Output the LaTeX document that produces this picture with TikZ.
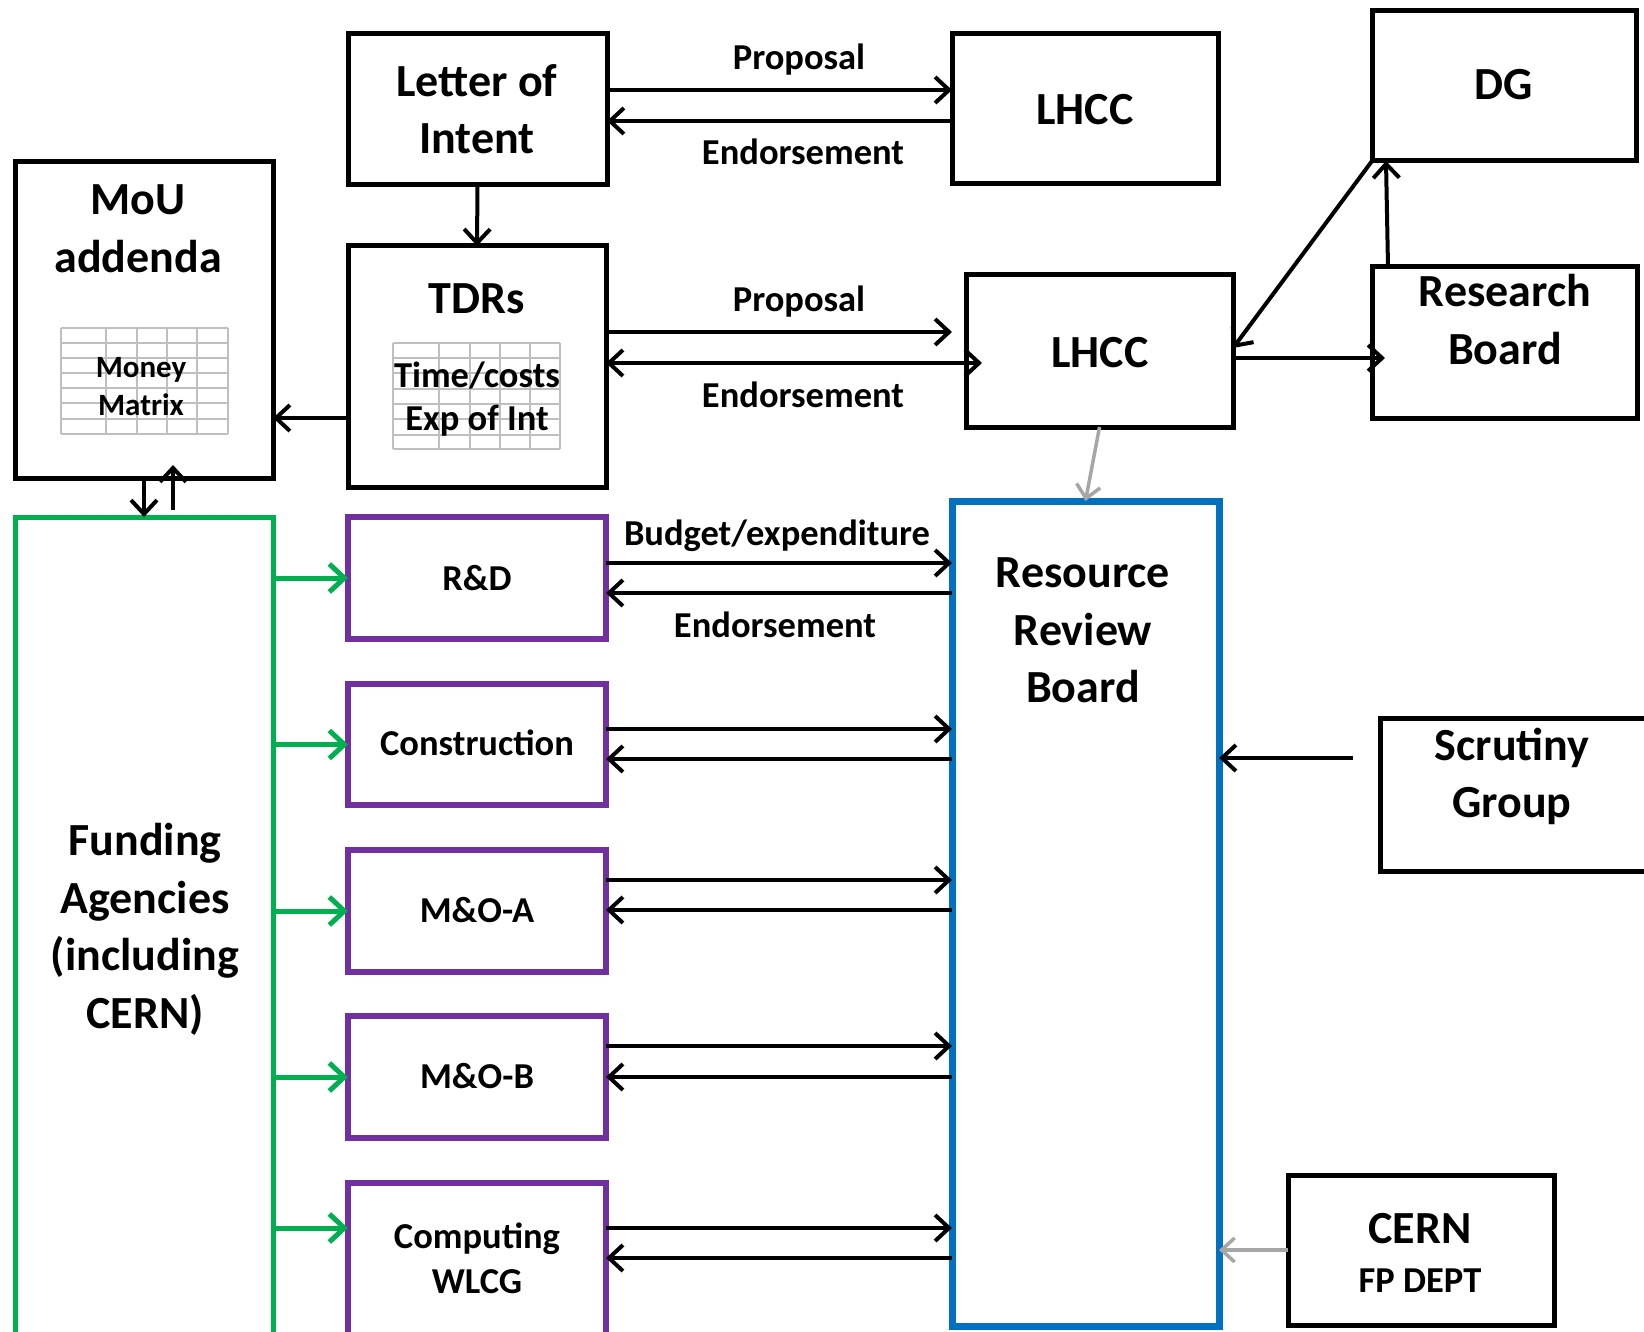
\documentclass[tikz,border=0pt]{standalone}
\usepackage{fontspec}
\setmainfont{Carlito}
\usetikzlibrary{arrows.meta}
\newcommand\fbig{\fontsize{46}{56}\selectfont\bfseries}
\newcommand\fmid{\fontsize{36.5}{44}\selectfont\bfseries}
\newcommand\fsml{\fontsize{31}{38}\selectfont\bfseries}
\definecolor{fgreen}{HTML}{00B050}
\definecolor{fpurple}{HTML}{7030A0}
\definecolor{fblue}{HTML}{0070C0}
\definecolor{fgray}{HTML}{A6A6A6}
\definecolor{tgray}{HTML}{BFBFBF}
\begin{document}
\begin{tikzpicture}[x=1pt,y=-1pt,
  box/.style={draw=black,line width=5pt,inner sep=0pt,outer sep=0pt,rectangle},
  pbox/.style={draw=fpurple,line width=5.5pt,inner sep=0pt,outer sep=0pt,rectangle},
  gbox/.style={draw=fgreen,line width=5pt,inner sep=0pt,outer sep=0pt,rectangle},
  bbox/.style={draw=fblue,line width=7pt,inner sep=0pt,outer sep=0pt,rectangle},
  arr/.style={draw=black,line width=4pt,-{Straight Barb[length=14pt,width=26pt]}},
  garr/.style={draw=fgreen,line width=5pt,-{Straight Barb[length=15pt,width=28pt]}},
  grarr/.style={draw=fgray,line width=3.5pt,-{Straight Barb[length=13pt,width=24pt]}},
  big/.style={anchor=base,inner sep=0pt,font=\fbig},
  mid/.style={anchor=base,inner sep=0pt,font=\fmid},
  sml/.style={anchor=base,inner sep=0pt,font=\fsml},
  grid/.style={draw=tgray,line width=1.8pt}
]
\useasboundingbox (0,0) rectangle (1644,1332);

% boxes
\node[box,minimum width=259pt,minimum height=151pt] (loi) at (477.5,109.5) {};
\node[box,minimum width=266pt,minimum height=150pt] (lhcca) at (1085,109) {};
\node[box,minimum width=264pt,minimum height=150pt] (dg) at (1504,86) {};
\node[box,minimum width=258pt,minimum height=316pt] (mou) at (144,320) {};
\node[box,minimum width=258pt,minimum height=241pt] (tdrs) at (477,366.5) {};
\node[box,minimum width=267pt,minimum height=152pt] (lhccb) at (1099.5,351) {};
\node[box,minimum width=265pt,minimum height=151pt] (rb) at (1504.5,342.5) {};
\node[gbox,minimum width=258pt,minimum height=828pt] (fund) at (144,931) {};
\node[pbox,minimum width=258pt,minimum height=122pt] (rd) at (477,578) {};
\node[pbox,minimum width=258pt,minimum height=121pt] (con) at (477,744.5) {};
\node[pbox,minimum width=258pt,minimum height=122pt] (moa) at (477,911) {};
\node[pbox,minimum width=258pt,minimum height=122pt] (mob) at (477,1077) {};
\node[pbox,minimum width=258pt,minimum height=162pt] (comp) at (477,1264) {};
\node[bbox,minimum width=267pt,minimum height=825pt] (rrb) at (1085.5,913.5) {};
\node[box,minimum width=270pt,minimum height=153pt] (scr) at (1515,794.5) {};
\node[box,minimum width=266pt,minimum height=150pt] (cern) at (1421,1250) {};

% tables
\foreach \x in {61,106,137,167,197,228} \draw[grid] (\x,328) -- (\x,434);
\foreach \y in {328,343,358,373,388,403,419,434} \draw[grid] (61,\y) -- (228,\y);
\foreach \x in {393,439,470,500,530,560} \draw[grid] (\x,343) -- (\x,449);
\foreach \y in {343,358,373,389,404,419,435,449} \draw[grid] (393,\y) -- (560,\y);

% texts
\node[big] (t-loi1) at (477,97) {Letter of};
\node[big] (t-loi2) at (477,154) {Intent};
\node[big] (t-lhcca) at (1085,125) {LHCC};
\node[big] (t-dg) at (1504,100) {DG};
\node[big] (t-lhccb) at (1100,367) {LHCC};
\node[big] (t-mou1) at (138,215) {MoU};
\node[big] (t-mou2) at (138,273) {addenda};
\node[sml] (t-mm1) at (141,377) {Money};
\node[sml] (t-mm2) at (141,415) {Matrix};
\node[big] (t-tdrs) at (477,314) {TDRs};
\node[mid] (t-tc1) at (477,387) {Time/costs};
\node[mid] (t-tc2) at (477,430) {Exp of Int};
\node[mid] (t-p1) at (799,70) {Proposal};
\node[mid] (t-e1) at (803,165) {Endorsement};
\node[mid] (t-p2) at (799,312) {Proposal};
\node[mid] (t-e2) at (803,407) {Endorsement};
\node[big] (t-rb1) at (1505,307) {Research};
\node[big] (t-rb2) at (1505,364) {Board};
\node[big] (t-rrb1) at (1083,587) {Resource};
\node[big] (t-rrb2) at (1083,645) {Review};
\node[big] (t-rrb3) at (1083,702) {Board};
\node[mid] (t-be) at (777,545) {Budget/expenditure};
\node[mid] (t-e3) at (775,637) {Endorsement};
\node[mid] (t-rd) at (477,590) {R\&D};
\node[mid] (t-con) at (477,755) {Construction};
\node[mid] (t-moa) at (477,922) {M\&O-A};
\node[mid] (t-mob) at (477,1088) {M\&O-B};
\node[mid] (t-comp1) at (477,1248) {Computing};
\node[mid] (t-comp2) at (477,1293) {WLCG};
\node[big] (t-f1) at (145,855) {Funding};
\node[big] (t-f2) at (145,913) {Agencies};
\node[big] (t-f3) at (145,970) {(including};
\node[big] (t-f4) at (145,1028) {CERN)};
\node[big] (t-scr1) at (1512,760) {Scrutiny};
\node[big] (t-scr2) at (1512,817) {Group};
\node[big] (t-cern1) at (1420,1243) {CERN};
\node[mid] (t-cern2) at (1420,1292) {FP DEPT};

% free-end coordinates
\coordinate (upA) at (173,510);
\coordinate (upB) at (173,465);

% connectors top
\draw[arr] (loi.east |- 0,90) -- (lhcca.west |- 0,90);
\draw[arr] (lhcca.west |- 0,121) -- (loi.east |- 0,121);
\draw[arr] (loi.south) -- (tdrs.north);
\draw[arr,shorten >=14pt] (tdrs.east |- 0,332) -- (lhccb.west |- 0,332);
\draw[arr] (lhccb.west |- 0,363) -- (tdrs.east |- 0,363);
\draw[arr,shorten <=28pt,shorten >=-16pt] (tdrs.east |- 0,363) -- (lhccb.west |- 0,363);
\draw[arr] (tdrs.west |- 0,418) -- (mou.east |- 0,418);
\draw[arr] (mou.south) -- (fund.north);
\draw[arr] (upA) -- (upB);
\draw[arr] (dg.south west) -- (lhccb.east |- 0,348);
\draw[arr] (1388,0 |- rb.north) -- (1386,0 |- dg.south);
\draw[arr,shorten >=-13pt] (lhccb.east |- 0,358) -- (rb.west |- 0,358);
\draw[grarr] (lhccb.south) -- (rrb.north);
\draw[arr,shorten <=27pt] (scr.west |- 0,758) -- (rrb.east |- 0,758);
\draw[grarr] (cern.west) -- (rrb.east |- cern.west);

% green
\foreach \n in {rd,con,moa,mob} \draw[garr] (fund.east |- \n.west) -- (\n.west);
\draw[garr] (fund.east |- 0,1228) -- (comp.west |- 0,1228);

% purple <-> RRB
\foreach \n/\a/\b in {rd/563/593,con/729/759,moa/880/910,mob/1046/1077,comp/1228/1258}{
  \draw[arr] (\n.east |- 0,\a) -- (rrb.west |- 0,\a);
  \draw[arr] (rrb.west |- 0,\b) -- (\n.east |- 0,\b);
}
\end{tikzpicture}
\end{document}
